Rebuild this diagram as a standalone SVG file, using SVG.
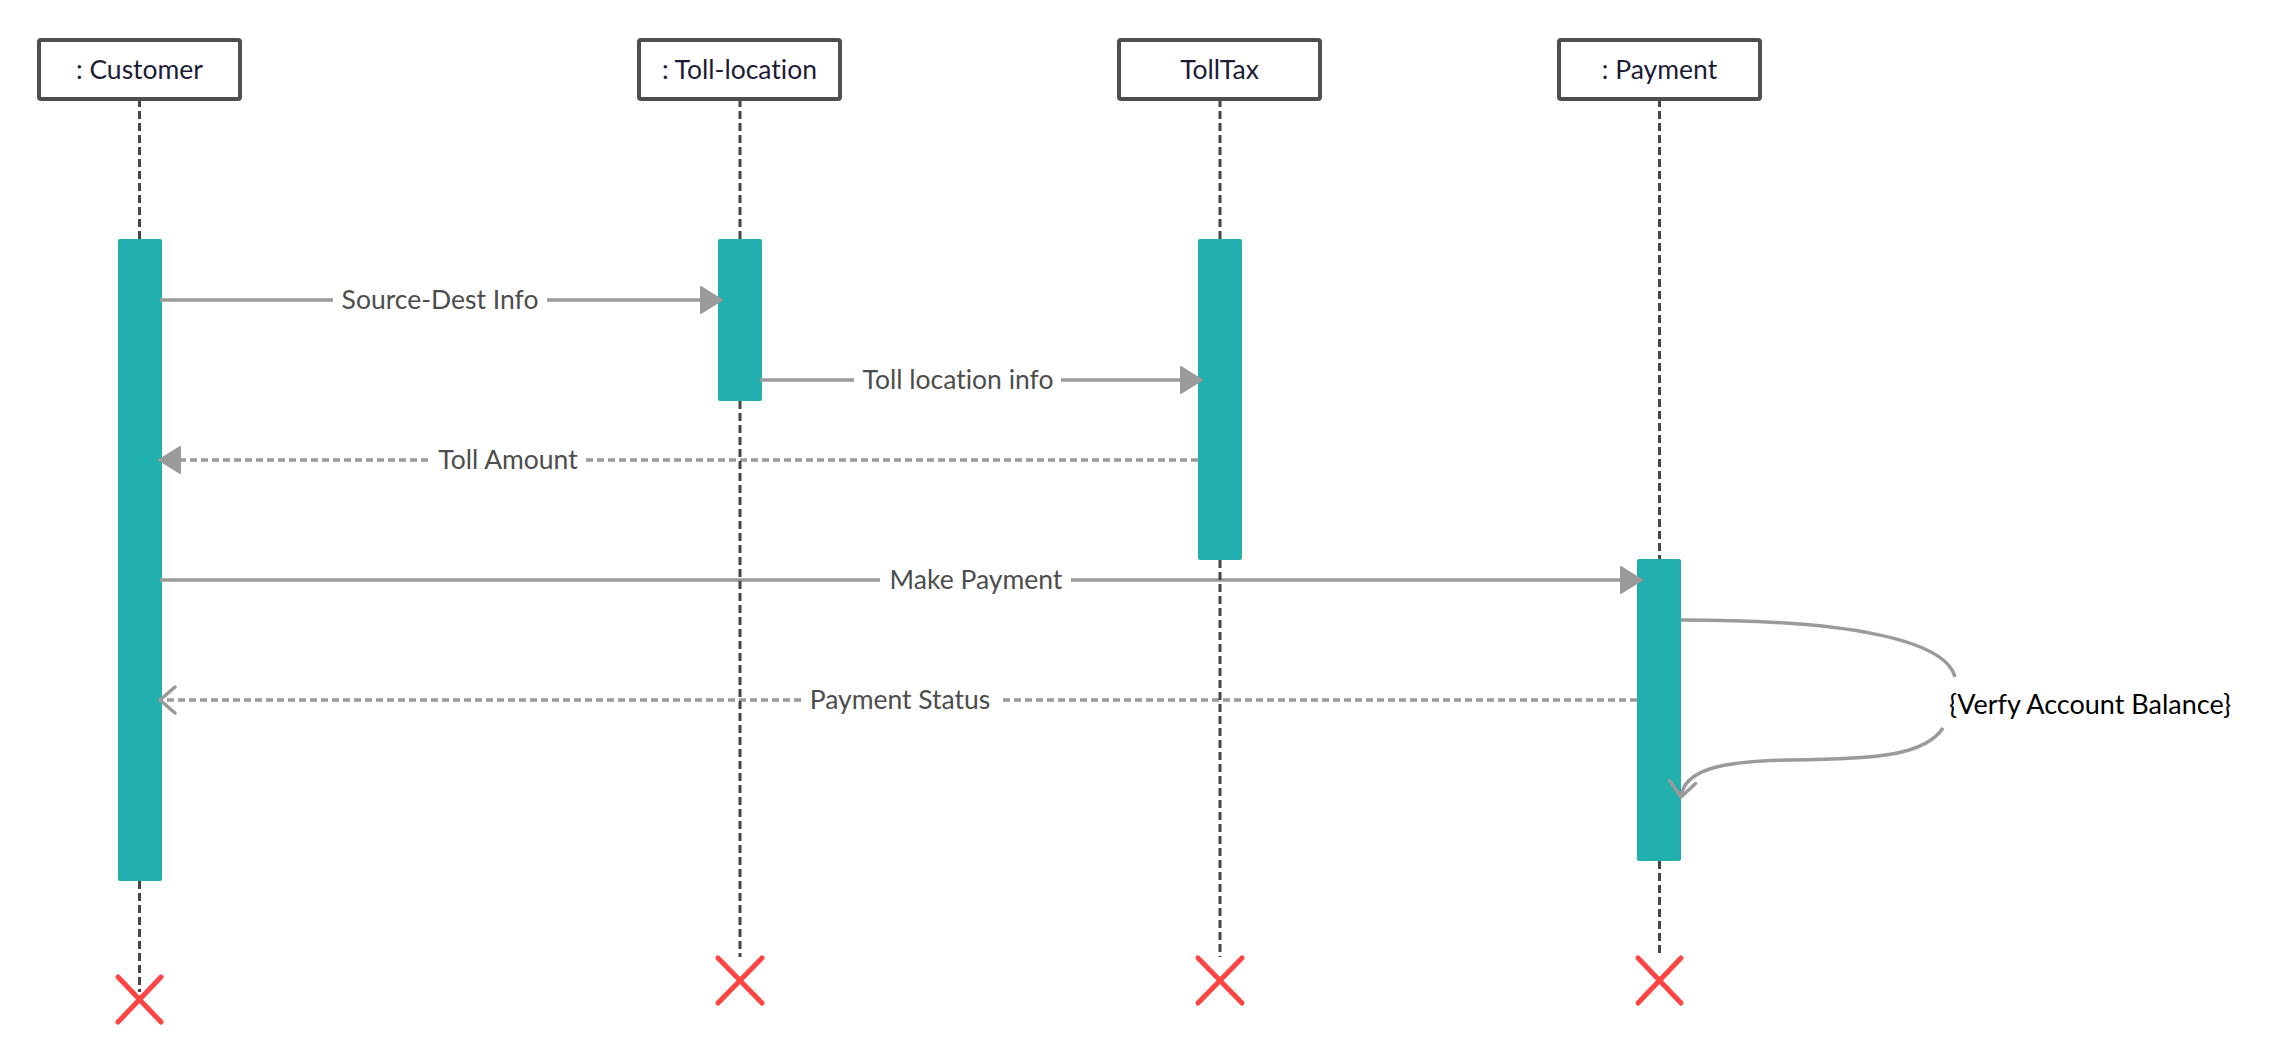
<svg xmlns="http://www.w3.org/2000/svg" width="2270" height="1061" viewBox="0 0 2270 1061">
<style>
text{font-variant-ligatures:none}
.box{fill:#fff;stroke:#4f4f4f;stroke-width:4}
.bl{font-family:Lato,"Liberation Sans",sans-serif;font-size:26.5px;fill:#1c1c36;text-anchor:middle}
.bar{fill:#22b0ae}
.life{stroke:#454545;stroke-width:3;stroke-dasharray:8 4;fill:none}
.msg{stroke:#9a9a9a;stroke-width:3.5;fill:none}
.dash{stroke-dasharray:7 4}
.ml{font-family:Lato,"Liberation Sans",sans-serif;font-size:26.5px;fill:#4d4d4d;text-anchor:middle}
.gap{fill:#fff}
.x{stroke:#ff4444;stroke-width:5;stroke-linecap:round}
</style>
<defs>
<marker id="fa" markerUnits="userSpaceOnUse" markerWidth="26" markerHeight="30" viewBox="-2 -2 26 30" refX="21" refY="13" orient="auto">
<path d="M0,0 L21,13 L0,26 z" fill="#9a9a9a" stroke="#9a9a9a" stroke-width="2" stroke-linejoin="round"/>
</marker>
<marker id="oa" markerUnits="userSpaceOnUse" markerWidth="22" markerHeight="34" viewBox="-3 -3 22 34" refX="15" refY="13" orient="auto">
<path d="M0,0 L15,13 L0,26" fill="none" stroke="#9a9a9a" stroke-width="3.5" stroke-linejoin="round" stroke-linecap="round"/>
</marker>
</defs>
<rect width="2270" height="1061" fill="#fff"/>

<g id="bars">
<rect class="bar" x="118" y="239" width="44" height="642" rx="2"/>
<rect class="bar" x="718" y="239" width="44" height="162" rx="2"/>
<rect class="bar" x="1198" y="239" width="44" height="321" rx="2"/>
<rect class="bar" x="1637" y="559" width="44" height="302" rx="2"/>
</g>

<g id="connectors">
<line class="msg" x1="160" y1="300" x2="722" y2="300" marker-end="url(#fa)"/>
<rect class="gap" x="333" y="288" width="214" height="24"/>
<text class="ml" x="440" y="309">Source-Dest Info</text>

<line class="msg" x1="760" y1="380" x2="1202" y2="380" marker-end="url(#fa)"/>
<rect class="gap" x="854" y="368" width="207" height="24"/>
<text class="ml" x="958" y="389">Toll location info</text>

<line class="msg dash" x1="1198" y1="460" x2="159" y2="460" marker-end="url(#fa)"/>
<rect class="gap" x="429" y="448" width="157" height="24"/>
<text class="ml" x="508" y="469">Toll Amount</text>

<line class="msg" x1="160" y1="580" x2="1642" y2="580" marker-end="url(#fa)"/>
<rect class="gap" x="880" y="568" width="191" height="24"/>
<text class="ml" x="976" y="589">Make Payment</text>

<line class="msg dash" x1="1637" y1="700" x2="160" y2="700" marker-end="url(#oa)"/>
<rect class="gap" x="801" y="688" width="199" height="24"/>
<text class="ml" x="900" y="709">Payment Status</text>

<path class="msg" d="M1681,620 C1850,620 1945,640 1955,677"/>
<path class="msg" d="M1943,728 C1925,755 1880,759 1790,760 C1720,761 1684,770 1681,797" marker-end="url(#oa)"/>
<text x="2090" y="714" font-family="Lato,'Liberation Sans',sans-serif" font-size="27" fill="#000" text-anchor="middle">{Verfy Account Balance}</text>
</g>

<g id="lifelines">
<path class="life" d="M139.5,99 V239 M139.5,881 V992"/>
<path class="life" d="M740,99 V239 M740,401 V957"/>
<path class="life" d="M1220,99 V239 M1220,560 V957"/>
<path class="life" d="M1659.5,99 V559 M1659.5,861 V957"/>
</g>

<g id="customer">
<rect class="box" x="39" y="40" width="201" height="59" rx="2"/>
<text class="bl" x="139.5" y="79">: Customer</text>
<line class="x" x1="118" y1="977" x2="161" y2="1022"/>
<line class="x" x1="161" y1="977" x2="118" y2="1022"/>
</g>
<g id="toll-location">
<rect class="box" x="639" y="40" width="201" height="59" rx="2"/>
<text class="bl" x="739.5" y="79">: Toll-location</text>
<line class="x" x1="718" y1="958" x2="762" y2="1003"/>
<line class="x" x1="762" y1="958" x2="718" y2="1003"/>
</g>
<g id="tolltax">
<rect class="box" x="1119" y="40" width="201" height="59" rx="2"/>
<text class="bl" x="1219.5" y="79">TollTax</text>
<line class="x" x1="1198" y1="958" x2="1242" y2="1003"/>
<line class="x" x1="1242" y1="958" x2="1198" y2="1003"/>
</g>
<g id="payment">
<rect class="box" x="1559" y="40" width="201" height="59" rx="2"/>
<text class="bl" x="1659.5" y="79">: Payment</text>
<line class="x" x1="1638" y1="958" x2="1681" y2="1003"/>
<line class="x" x1="1681" y1="958" x2="1638" y2="1003"/>
</g>
</svg>
